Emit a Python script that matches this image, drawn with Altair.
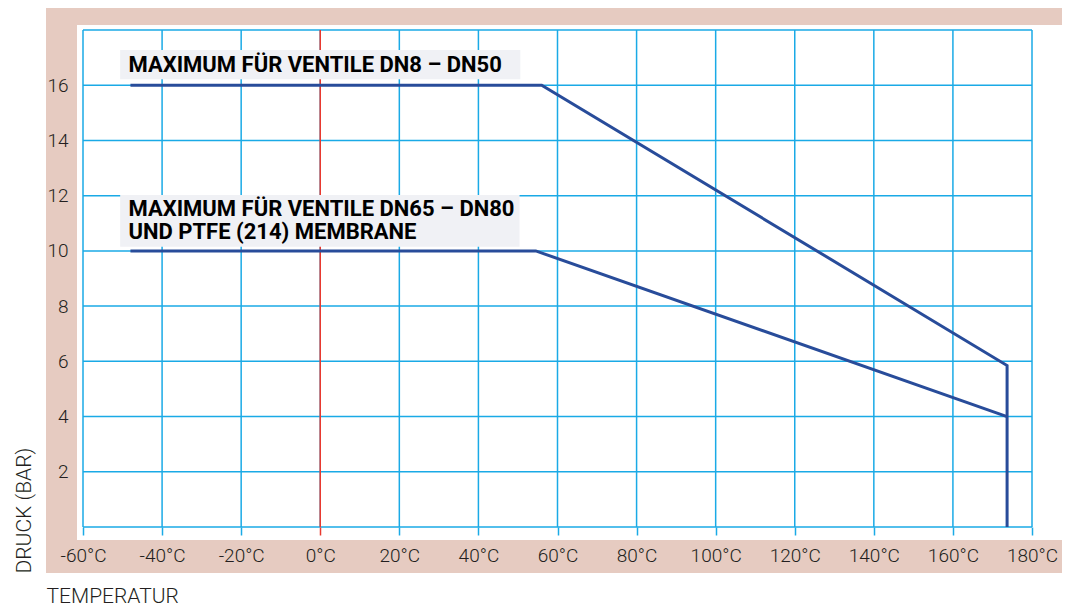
import altair as alt
import pandas as pd

# ---- data ----
x_ticks = [-60, -40, -20, 0, 20, 40, 60, 80, 100, 120, 140, 160, 180]
y_ticks = [0, 2, 4, 6, 8, 10, 12, 14, 16, 18]

temp_dn50 = [-48, 56, 173.7, 173.7]
press_dn50 = [16, 16, 5.85, 0]
temp_dn80 = [-48, 54.5, 173.7]
press_dn80 = [10, 10, 4.0]

label_texts = [["MAXIMUM FÜR VENTILE DN8 – DN50"],
               ["MAXIMUM FÜR VENTILE DN65 – DN80", "UND PTFE (214) MEMBRANE"]]
label_x = [-48.5, -48.5]
label_y = [16.48, 11.27]
box_x = [-50.6, -50.6]
box_x2 = [50.6, 50.4]
box_y = [17.28, 12.02]
box_y2 = [16.22, 10.15]

# ---- styles ----
PINK = "#e6cbc1"
BLUE = "#1aaae6"
RED = "#e8392f"
NAVY = "#284c9a"
BOXGREY = "#f0f1f5"
TXT = "#231f20"
FONT = "Roboto"

xs = alt.Scale(domain=[-60, 180], nice=False, zero=False)
ys = alt.Scale(domain=[0, 18], nice=False, zero=False)

x_axis = alt.Axis(
    values=x_ticks, labelExpr="datum.value + '°C'", grid=False, domain=False,
    ticks=True, tickSize=8, tickWidth=1.5,
    tickColor={"condition": {"test": "datum.value === 0", "value": RED}, "value": BLUE},
    labelFont=FONT, labelFontWeight=300, labelFontSize=19, labelColor=TXT, labelPadding=11,
    labelFlush=False, labelOverlap=False,
    title="TEMPERATUR", titleFont=FONT, titleFontSize=21, titleFontWeight=300,
    titleColor=TXT, titleX=-37, titleY=75, titleAlign="left", titleBaseline="alphabetic",
    zindex=1,
)
y_axis = alt.Axis(
    values=y_ticks, labelExpr="datum.value == 0 || datum.value == 18 ? '' : datum.label",
    grid=False, domain=False, ticks=False,
    labelFont=FONT, labelFontWeight=300, labelFontSize=19, labelColor=TXT, labelPadding=15,
    labelOverlap=False, labelFlush=False,
    title="DRUCK (BAR)", titleFont=FONT, titleFontSize=21, titleFontWeight=300,
    titleColor=TXT, titleAngle=270, titleX=-53, titleY=543, titleAlign="left",
    titleBaseline="alphabetic", zindex=1,
)

dummy = pd.DataFrame({"a": [0]})
band_top = alt.Chart(dummy).mark_rect(color=PINK).encode(
    x=alt.value(-37), x2=alt.value(1000), y=alt.value(-22), y2=alt.value(-5))
band_left = alt.Chart(dummy).mark_rect(color=PINK).encode(
    x=alt.value(-37), x2=alt.value(-6), y=alt.value(-22), y2=alt.value(543))
band_bottom = alt.Chart(dummy).mark_rect(color=PINK).encode(
    x=alt.value(-37), x2=alt.value(1000), y=alt.value(510), y2=alt.value(543))

vgrid_df = pd.DataFrame({"t": x_ticks, "p0": y_ticks[0], "p1": y_ticks[-1]})
hgrid_df = pd.DataFrame({"p": y_ticks, "t0": x_ticks[0], "t1": x_ticks[-1]})

vgrid = alt.Chart(vgrid_df).mark_rule(color=BLUE, strokeWidth=1.5).encode(
    x=alt.X("t:Q", scale=xs, axis=x_axis),
    y=alt.Y("p0:Q", scale=ys, axis=y_axis), y2="p1:Q")
hgrid = alt.Chart(hgrid_df).mark_rule(color=BLUE, strokeWidth=1.5).encode(
    x=alt.X("t0:Q", scale=xs), x2="t1:Q", y=alt.Y("p:Q", scale=ys))

red_df = pd.DataFrame({"t": [0], "p0": [y_ticks[0]], "p1": [y_ticks[-1]]})
red = alt.Chart(red_df).mark_rule(color=RED, strokeWidth=1.5).encode(
    x=alt.X("t:Q", scale=xs), y=alt.Y("p0:Q", scale=ys), y2="p1:Q")

lines_df = pd.DataFrame({
    "series": ["DN50"] * len(temp_dn50) + ["DN80"] * len(temp_dn80),
    "order": list(range(len(temp_dn50))) + list(range(len(temp_dn80))),
    "t": temp_dn50 + temp_dn80,
    "p": press_dn50 + press_dn80,
})
lines = alt.Chart(lines_df).mark_line(color=NAVY, strokeWidth=3, strokeJoin="miter").encode(
    x=alt.X("t:Q", scale=xs), y=alt.Y("p:Q", scale=ys),
    detail="series:N", order="order:Q")

box_df = pd.DataFrame({"x": box_x, "x2": box_x2, "y": box_y, "y2": box_y2})
boxes = alt.Chart(box_df).mark_rect(color=BOXGREY).encode(
    x=alt.X("x:Q", scale=xs), x2="x2:Q", y=alt.Y("y:Q", scale=ys), y2="y2:Q")

lab_df = pd.DataFrame({"t": label_x, "p": label_y, "txt": label_texts})
labels = alt.Chart(lab_df).mark_text(
    align="left", baseline="alphabetic", font=FONT, fontSize=22,
    fontWeight="bold", lineHeight=23, color="#000000").encode(
    x=alt.X("t:Q", scale=xs), y=alt.Y("p:Q", scale=ys), text="txt")

chart = alt.layer(
    band_top, band_left, band_bottom, vgrid, hgrid, red, lines, boxes, labels
).properties(
    width=949, height=497,
    autosize=alt.AutoSizeParams(type="none"),
    padding={"left": 75, "top": 22, "right": 30, "bottom": 80},
    background="white",
).configure_view(stroke="transparent")

chart.save("out.html", embed_options={"renderer": "svg", "actions": False})
